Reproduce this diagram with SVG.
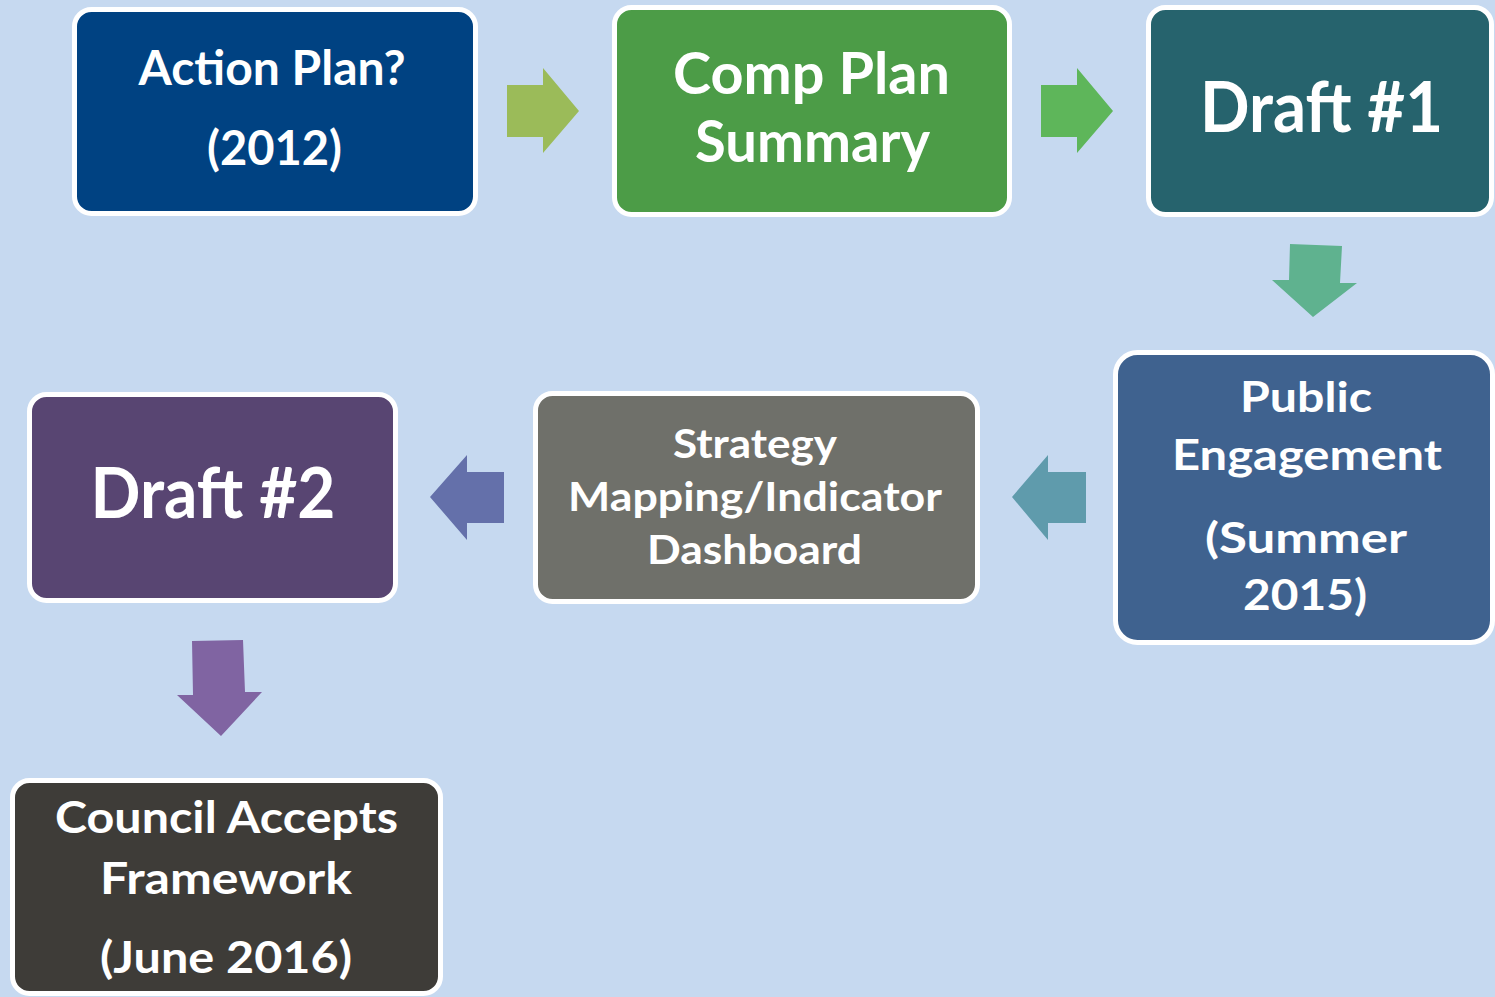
<svg xmlns="http://www.w3.org/2000/svg" width="1495" height="997" viewBox="0 0 1495 997">
<style>
.box{stroke:#FFFFFF;stroke-width:5}
.t{font-family:Lato,"Open Sans","Liberation Sans",sans-serif;font-weight:bold;fill:#FFFFFF;text-anchor:middle}
</style>
<rect x="0" y="0" width="1495" height="997" fill="#C6D9F0"/>
<g id="connectors">
<polygon points="507,85 543,85 543,68 579,111 543,153 543,137 507,137" fill="#9BBB59"/>
<polygon points="1041,85 1077,85 1077,68 1113,111 1077,153 1077,137 1041,137" fill="#5EB65A"/>
<polygon points="1290,244 1342,246 1340,283 1357,283 1313,317 1272,280 1289,280" fill="#5FB28F"/>
<polygon points="1086,472 1048,472 1048,455 1012,497 1048,540 1048,523 1086,523" fill="#5F9BAC"/>
<polygon points="504,472 467,472 467,455 430,497 467,540 467,523 504,523" fill="#6470AA"/>
<polygon points="192,641 243,640 245,692 262,692 221,736 177,695 193,695" fill="#8064A2"/>
</g>
<g id="n1">
<rect class="box" x="74.5" y="9.5" width="401" height="204" rx="17" fill="#004282"/>
<text class="t" x="272" y="85" font-size="48" textLength="267" lengthAdjust="spacingAndGlyphs">Action Plan?</text>
<text class="t" x="274.5" y="165" font-size="48" textLength="135" lengthAdjust="spacingAndGlyphs">(2012)</text>
</g>
<g id="n2">
<rect class="box" x="614.5" y="7.5" width="395" height="207" rx="17" fill="#4C9C47"/>
<text class="t" x="811.5" y="94" font-size="58" textLength="277" lengthAdjust="spacingAndGlyphs">Comp Plan</text>
<text class="t" x="812.5" y="162" font-size="58" textLength="235" lengthAdjust="spacingAndGlyphs">Summary</text>
</g>
<g id="n3">
<rect class="box" x="1148.5" y="7.5" width="343" height="207" rx="17" fill="#26636D"/>
<text class="t" x="1321.5" y="132" font-size="70" textLength="243" lengthAdjust="spacingAndGlyphs">Draft #1</text>
</g>
<g id="n4">
<rect class="box" x="1115.5" y="352.5" width="377" height="290" rx="22" fill="#3F628F"/>
<text class="t" x="1306" y="412" font-size="42" textLength="132" lengthAdjust="spacingAndGlyphs">Public</text>
<text class="t" x="1307" y="470" font-size="42" textLength="270" lengthAdjust="spacingAndGlyphs">Engagement</text>
<text class="t" x="1306" y="553" font-size="42" textLength="202" lengthAdjust="spacingAndGlyphs">(Summer</text>
<text class="t" x="1305" y="610" font-size="42" textLength="124" lengthAdjust="spacingAndGlyphs">2015)</text>
</g>
<g id="n5">
<rect class="box" x="535.5" y="393.5" width="442" height="208" rx="17" fill="#6F706A"/>
<text class="t" x="755" y="458" font-size="41" textLength="164" lengthAdjust="spacingAndGlyphs">Strategy</text>
<text class="t" x="755" y="511" font-size="41" textLength="374" lengthAdjust="spacingAndGlyphs">Mapping/Indicator</text>
<text class="t" x="754.5" y="564" font-size="41" textLength="215" lengthAdjust="spacingAndGlyphs">Dashboard</text>
</g>
<g id="n6">
<rect class="box" x="29.5" y="394.5" width="366" height="206" rx="17" fill="#584572"/>
<text class="t" x="213" y="518" font-size="70" textLength="245" lengthAdjust="spacingAndGlyphs">Draft #2</text>
</g>
<g id="n7">
<rect class="box" x="12.5" y="780.5" width="428" height="213" rx="17" fill="#3E3C38"/>
<text class="t" x="226.5" y="833" font-size="43" textLength="343" lengthAdjust="spacingAndGlyphs">Council Accepts</text>
<text class="t" x="226" y="894" font-size="43" textLength="252" lengthAdjust="spacingAndGlyphs">Framework</text>
<text class="t" x="226" y="973" font-size="43" textLength="252" lengthAdjust="spacingAndGlyphs">(June 2016)</text>
</g>
</svg>
